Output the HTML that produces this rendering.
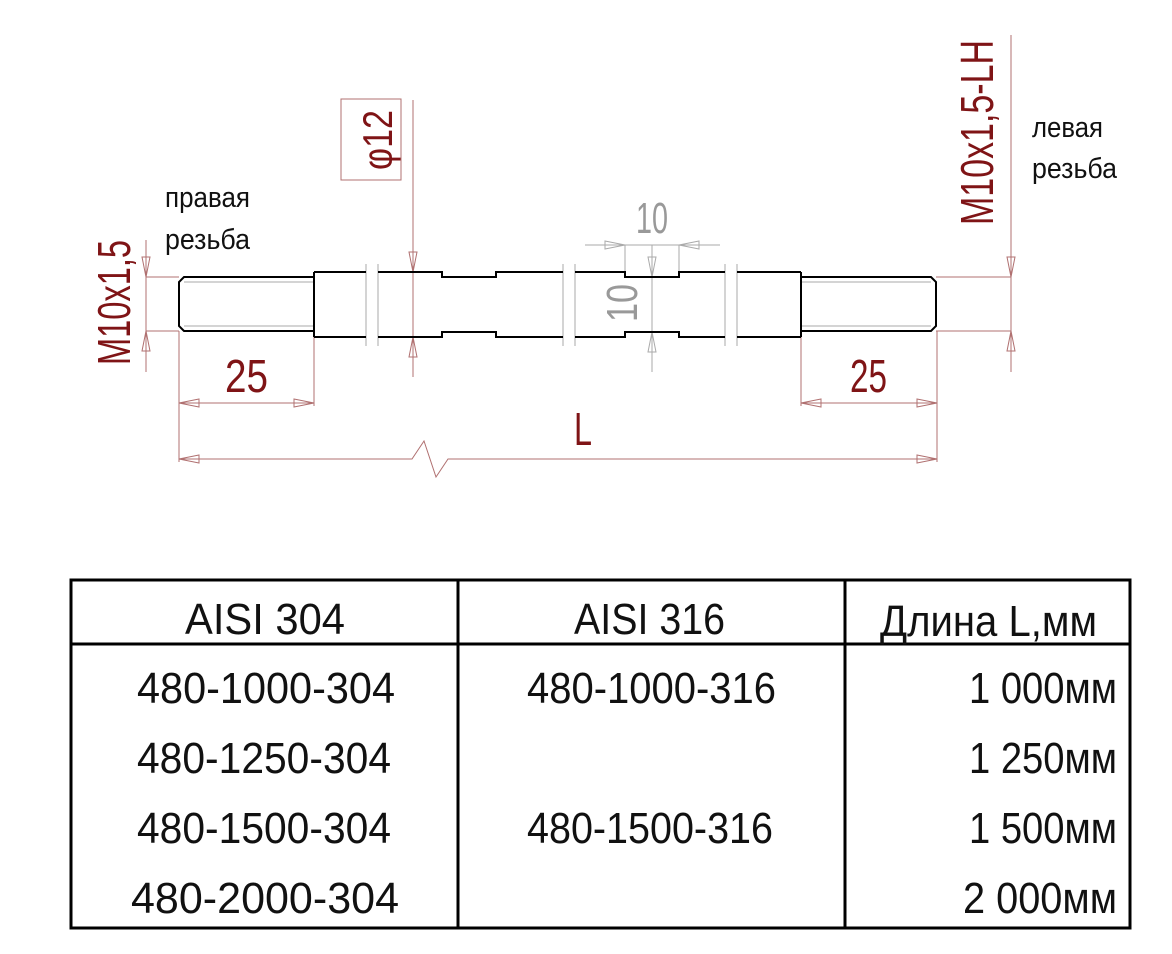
<!DOCTYPE html>
<html><head><meta charset="utf-8"><style>
html,body{margin:0;padding:0;background:#fff;}
svg{display:block;}
text{font-family:"Liberation Sans",sans-serif;}
</style></head><body>
<svg width="1172" height="954" viewBox="0 0 1172 954" xmlns="http://www.w3.org/2000/svg">
<defs>
</defs>
<!-- dimension lines (red thin) -->
<g stroke="#b07070" stroke-width="1" fill="none">
  <!-- left thread dim -->
  <line x1="146" y1="240" x2="146" y2="372"/>
  <line x1="146" y1="277" x2="179" y2="277"/>
  <line x1="146" y1="331" x2="179" y2="331"/>
  <!-- right thread dim -->
  <line x1="1011" y1="35" x2="1011" y2="372"/>
  <line x1="936" y1="277" x2="1011" y2="277"/>
  <line x1="936" y1="331" x2="1011" y2="331"/>
  <!-- phi12 -->
  <line x1="413" y1="100" x2="413" y2="377"/>
  <rect x="341" y="99" width="60" height="81"/>
  <!-- ext lines -->
  <line x1="179" y1="331" x2="179" y2="462"/>
  <line x1="314" y1="337" x2="314" y2="406"/>
  <line x1="801" y1="337" x2="801" y2="406"/>
  <line x1="937" y1="331" x2="937" y2="462"/>
  <!-- 25 dims -->
  <line x1="179" y1="403" x2="314" y2="403"/>
  <line x1="801" y1="403" x2="937" y2="403"/>
  <!-- L -->
  <polyline points="179,459 412,459 424,441 436,477 448,459 937,459"/>
  <!-- arrowheads -->
  <polygon points="179,403 199,399 199,407"/>
  <polygon points="314,403 294,399 294,407"/>
  <polygon points="801,403 821,399 821,407"/>
  <polygon points="937,403 917,399 917,407"/>
  <polygon points="179,459 199,455 199,463"/>
  <polygon points="937,459 917,455 917,463"/>
  <polygon points="146,277 142,257 150,257"/>
  <polygon points="146,331 142,351 150,351"/>
  <polygon points="1011,277 1007,257 1015,257"/>
  <polygon points="1011,331 1007,351 1015,351"/>
  <polygon points="413,272 409,252 417,252"/>
  <polygon points="413,337 409,357 417,357"/>
</g>
<!-- gray dims -->
<g stroke="#aaaaaa" stroke-width="1" fill="none">
  <line x1="585" y1="245" x2="720" y2="245"/>
  <line x1="625" y1="245" x2="625" y2="277"/>
  <line x1="679" y1="245" x2="679" y2="277"/>
  <line x1="652" y1="245" x2="652" y2="372"/>
  <polygon points="625,245 605,241 605,249"/>
  <polygon points="679,245 699,241 699,249"/>
  <polygon points="652,277 648,257 656,257"/>
  <polygon points="652,332 648,352 656,352"/>
  <!-- break marks -->
  <line x1="366" y1="264" x2="366" y2="346"/>
  <line x1="378" y1="264" x2="378" y2="346"/>
  <line x1="563" y1="264" x2="563" y2="346"/>
  <line x1="575" y1="264" x2="575" y2="346"/>
  <line x1="725" y1="264" x2="725" y2="346"/>
  <line x1="737" y1="264" x2="737" y2="346"/>
  <!-- thread minor lines -->
  <line x1="184" y1="282" x2="314" y2="282"/>
  <line x1="184" y1="326" x2="314" y2="326"/>
  <line x1="801" y1="282" x2="931" y2="282"/>
  <line x1="801" y1="326" x2="931" y2="326"/>
</g>
<!-- rod body -->
<g stroke="#000" stroke-width="2" fill="none">
  <path d="M314,272 V337"/>
  <path d="M801,272 V337"/>
  <path d="M314,272 H366 M378,272 H442 V277 H496 V272 H563 M575,272 H625 V277 H679 V272 H725 M737,272 H801"/>
  <path d="M314,337 H366 M378,337 H442 V332 H496 V337 H563 M575,337 H625 V332 H679 V337 H725 M737,337 H801"/>
  <path d="M314,277 H184 L179,282 V326 L184,331 H314"/>
  <path d="M801,277 H931 L936,282 V326 L931,331 H801"/>
</g>
<!-- red texts -->
<g fill="#7f1416" font-size="46">
  <text transform="translate(130,365) rotate(-90)" textLength="125" lengthAdjust="spacingAndGlyphs">M10x1,5</text>
  <text transform="translate(392,170) rotate(-90)" font-size="42" textLength="60" lengthAdjust="spacingAndGlyphs">φ12</text>
  <text transform="translate(993,225) rotate(-90)" textLength="185" lengthAdjust="spacingAndGlyphs">M10x1,5-LH</text>
  <text x="225" y="392" textLength="43" lengthAdjust="spacingAndGlyphs">25</text>
  <text x="850" y="392" textLength="37" lengthAdjust="spacingAndGlyphs">25</text>
  <text x="574" y="445" textLength="18" lengthAdjust="spacingAndGlyphs">L</text>
</g>
<g fill="#999" font-size="44">
  <text x="636" y="233" textLength="32" lengthAdjust="spacingAndGlyphs">10</text>
  <text transform="translate(637,322) rotate(-90)" textLength="38" lengthAdjust="spacingAndGlyphs">10</text>
</g>
<g fill="#111" font-size="29">
  <text x="165" y="207" textLength="85" lengthAdjust="spacingAndGlyphs">правая</text>
  <text x="165" y="249" textLength="85" lengthAdjust="spacingAndGlyphs">резьба</text>
  <text x="1032" y="137" textLength="71" lengthAdjust="spacingAndGlyphs">левая</text>
  <text x="1032" y="178" textLength="85" lengthAdjust="spacingAndGlyphs">резьба</text>
</g>
<!-- table -->
<g stroke="#000" stroke-width="3" fill="none">
  <rect x="71" y="580" width="1059" height="348"/>
  <line x1="71" y1="644" x2="1130" y2="644"/>
  <line x1="458" y1="580" x2="458" y2="928"/>
  <line x1="845" y1="580" x2="845" y2="928"/>
</g>
<g fill="#111" font-size="44">
  <text x="185" y="634" textLength="160" lengthAdjust="spacingAndGlyphs">AISI 304</text>
  <text x="574" y="634" textLength="151" lengthAdjust="spacingAndGlyphs">AISI 316</text>
  <text x="880" y="636" textLength="217" lengthAdjust="spacingAndGlyphs">Длина L,мм</text>
  <text x="137" y="703" textLength="258" lengthAdjust="spacingAndGlyphs">480-1000-304</text>
  <text x="137" y="773" textLength="254" lengthAdjust="spacingAndGlyphs">480-1250-304</text>
  <text x="137" y="843" textLength="254" lengthAdjust="spacingAndGlyphs">480-1500-304</text>
  <text x="131" y="913" textLength="268" lengthAdjust="spacingAndGlyphs">480-2000-304</text>
  <text x="527" y="703" textLength="249" lengthAdjust="spacingAndGlyphs">480-1000-316</text>
  <text x="527" y="843" textLength="246" lengthAdjust="spacingAndGlyphs">480-1500-316</text>
  <text x="969" y="703" textLength="148" lengthAdjust="spacingAndGlyphs">1 000мм</text>
  <text x="969" y="773" textLength="148" lengthAdjust="spacingAndGlyphs">1 250мм</text>
  <text x="969" y="843" textLength="148" lengthAdjust="spacingAndGlyphs">1 500мм</text>
  <text x="963" y="913" textLength="154" lengthAdjust="spacingAndGlyphs">2 000мм</text>
</g>
</svg>
</body></html>
